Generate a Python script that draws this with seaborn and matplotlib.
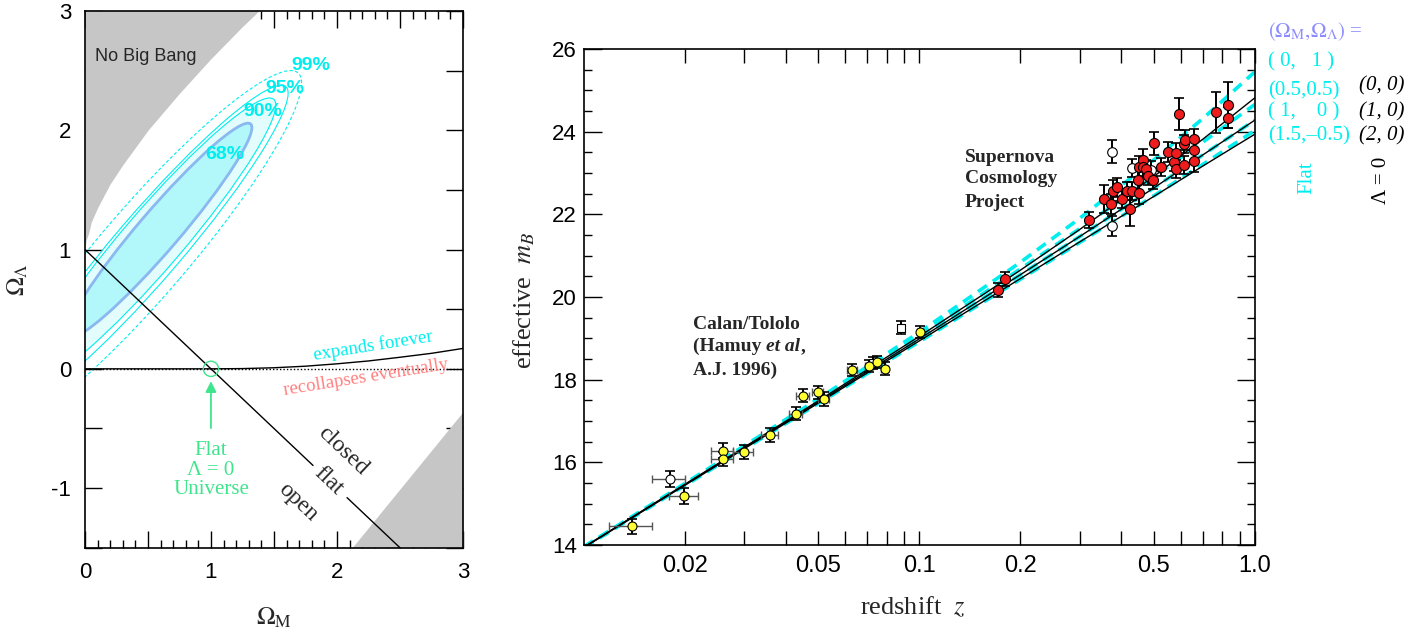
import pandas as pd
import seaborn as sns
import matplotlib.pyplot as plt
from matplotlib.patches import Ellipse
from matplotlib.ticker import MultipleLocator, FixedLocator, FixedFormatter, NullFormatter, FuncFormatter

sns.set_theme(style="ticks")
plt.rcParams['font.family'] = ['Liberation Serif', 'DejaVu Serif']
plt.rcParams['mathtext.fontset'] = 'stix'
plt.rcParams['axes.unicode_minus'] = False

# ---------------- left panel data (Omega_M, Omega_Lambda plane)
om_nobang = [0.0, 0.01, 0.03, 0.05, 0.1, 0.2, 0.3, 0.5, 0.75, 1.0, 1.25, 1.4]
ol_nobang = [1.0, 1.08, 1.14, 1.23, 1.35, 1.55, 1.71, 2.0, 2.31, 2.6, 2.87, 3.02]
om_bounce = [2.12, 3.0]
ol_bounce = [-1.5, -0.36]
om_recol = [0.0, 1.0, 1.25, 1.5, 1.75, 2.0, 2.25, 2.5, 2.75, 3.0]
ol_recol = [0.0, 0.0, 0.002, 0.009, 0.022, 0.042, 0.066, 0.097, 0.13, 0.171]
flat_om = [[0.0, 1.81], [2.08, 2.5]]
flat_ol = [[1.0, -0.81], [-1.08, -1.5]]

conf_levels = ['68%', '90%', '95%', '99%']
conf_center_om = [0.59, 0.54, 0.51, 0.47]
conf_center_ol = [1.16, 1.08, 1.03, 0.98]
conf_angle = 51
conf_width = [2.3, 3.04, 3.44, 3.87]
conf_height = [0.33, 0.48, 0.54, 0.72]
conf_label_om = [1.11, 1.41, 1.59, 1.79]
conf_label_ol = [1.80, 2.16, 2.35, 2.54]

# ---------------- right panel data (Hubble diagram)
lowz_z = [0.0139, 0.0199, 0.0259, 0.0259, 0.0299, 0.0358, 0.0428, 0.0449, 0.0497,
          0.0519, 0.0630, 0.0706, 0.0749, 0.0788, 0.1006]
lowz_m = [14.45, 15.19, 16.28, 16.08, 16.26, 16.67, 17.18, 17.61, 17.69,
          17.53, 18.23, 18.33, 18.43, 18.27, 19.15]
lowz_dm = [0.19, 0.19, 0.18, 0.18, 0.17, 0.17, 0.16, 0.16, 0.16,
           0.16, 0.15, 0.15, 0.15, 0.15, 0.15]
lowz_dz = [0.002, 0.002, 0.002, 0.002, 0.002, 0.002, 0.002, 0.002, 0.002,
           0.002, 0.002, 0.002, 0.002, 0.002, 0.002]
lowz_open_z = [0.0180]
lowz_open_m = [15.60]
lowz_open_dm = [0.2]
lowz_open_dz = [0.002]
lowz_sq_z = [0.0728, 0.0881]
lowz_sq_m = [18.40, 19.26]
lowz_sq_dm = [0.15, 0.15]

hiz_z = [0.172, 0.180, 0.320, 0.354, 0.3715, 0.3783, 0.3888, 0.4007, 0.4164, 0.4252,
         0.4311, 0.4472, 0.4502, 0.4512, 0.4648, 0.4632, 0.4733, 0.4808, 0.4955, 0.500,
         0.526, 0.5515, 0.5724, 0.5815, 0.5815, 0.5923, 0.6132, 0.6158, 0.6200, 0.6579,
         0.6579, 0.6579, 0.7637, 0.8325, 0.8325]
hiz_m = [20.17, 20.43, 21.86, 22.37, 22.25, 22.57, 22.65, 22.36, 22.57, 22.14,
         22.57, 22.83, 22.51, 23.15, 23.32, 23.14, 23.10, 22.93, 22.83, 23.72,
         23.14, 23.51, 23.27, 23.09, 23.48, 24.43, 23.70, 23.19, 23.80, 23.82,
         23.56, 23.28, 24.47, 24.65, 24.34]
hiz_dm = [0.17, 0.17, 0.20, 0.33, 0.25, 0.25, 0.22, 0.20, 0.22, 0.42,
          0.22, 0.25, 0.25, 0.25, 0.25, 0.22, 0.22, 0.22, 0.22, 0.28,
          0.22, 0.25, 0.22, 0.22, 0.25, 0.38, 0.22, 0.22, 0.25, 0.25,
          0.25, 0.25, 0.50, 0.56, 0.25]
hiz_open_z = [0.3741, 0.3741, 0.4311, 0.4887]
hiz_open_m = [23.52, 21.72, 23.13, 23.07]
hiz_open_dm = [0.28, 0.25, 0.22, 0.22]

model_z = [0.01, 0.02, 0.05, 0.1, 0.2, 0.3, 0.5, 0.7, 1.0]
flat_models = {
    '(0,1)': [13.96, 15.49, 17.54, 19.15, 20.84, 21.90, 23.32, 24.32, 25.45],
    '(0.5,0.5)': [13.955, 15.47, 17.50, 19.07, 20.68, 21.65, 22.91, 23.75, 24.66],
    '(1,0)': [13.945, 15.46, 17.46, 18.99, 20.54, 21.46, 22.64, 23.44, 24.28],
    '(1.5,-0.5)': [13.94, 15.44, 17.425, 18.92, 20.43, 21.315, 22.45, 23.21, 24.03],
}
lambda0_models = {
    '(0,0)': [13.95, 15.47, 17.49, 19.05, 20.65, 21.63, 22.92, 23.82, 24.82],
    '(1,0)': [13.945, 15.46, 17.46, 18.99, 20.54, 21.46, 22.64, 23.44, 24.28],
    '(2,0)': [13.94, 15.445, 17.435, 18.94, 20.445, 21.33, 22.435, 23.17, 23.94],
}

CYAN = '#00eeee'
GREEN = '#3ee58c'
GRAY = '#c6c6c6'

fig = plt.figure(figsize=(14.18, 6.33), dpi=100)
ax1 = fig.add_axes([0.0599, 0.1347, 0.2666, 0.8479])
ax2 = fig.add_axes([0.4118, 0.1390, 0.4732, 0.7836])

# ================= left panel
ax1.fill_between(om_nobang, ol_nobang, 3.2, color=GRAY, lw=0, zorder=1)
ax1.fill_between(om_bounce, -1.5, ol_bounce, color=GRAY, lw=0, zorder=1)

for i in reversed(range(len(conf_levels))):
    if i == 0:
        kw = dict(facecolor='#b2f7f9', edgecolor='#8ab8f0', lw=2.0)
    elif i == 1:
        kw = dict(facecolor='#e3fdfd', edgecolor=CYAN, lw=0.8)
    elif i == 2:
        kw = dict(facecolor='none', edgecolor=CYAN, lw=0.8)
    else:
        kw = dict(facecolor='none', edgecolor=CYAN, lw=0.8, linestyle=(0, (3, 2)))
    ax1.add_patch(Ellipse((conf_center_om[i], conf_center_ol[i]), conf_width[i],
                          conf_height[i], angle=conf_angle, zorder=2, **kw))
for lab, x, y in zip(conf_levels, conf_label_om, conf_label_ol):
    ax1.text(x, y, lab, color=CYAN, fontsize=14, fontweight='bold',
             family='Liberation Sans', ha='center', va='center', zorder=4)

ax1.axhline(0, color='black', lw=1, ls=(0, (1, 1.5)), zorder=3)
sns.lineplot(x=om_recol, y=ol_recol, ax=ax1, color='black', lw=1, sort=False,
             estimator=None, zorder=3)
for xs, ys in zip(flat_om, flat_ol):
    sns.lineplot(x=xs, y=ys, ax=ax1, color='black', lw=1, sort=False,
                 estimator=None, zorder=3)

ax1.text(0.08, 2.62, 'No Big Bang', family='Liberation Sans', fontsize=13,
         ha='left', va='center', zorder=4)
ax1.text(2.29, 0.19, 'expands forever', color=CYAN, fontsize=13.5, rotation=9,
         ha='center', va='center')
ax1.text(2.23, -0.07, 'recollapses eventually', color='#ff7f7f', fontsize=13.5,
         rotation=9, ha='center', va='center')
ax1.text(2.05, -0.69, 'closed', fontsize=17, rotation=-43.6, ha='center', va='center')
ax1.text(1.93, -0.94, 'flat', fontsize=17, rotation=-43.6, ha='center', va='center')
ax1.text(1.69, -1.12, 'open', fontsize=17, rotation=-43.6, ha='center', va='center')

ax1.scatter([1.0], [0.0], s=120, facecolors='none', edgecolors=GREEN, lw=1, zorder=5)
ax1.annotate('', xy=(1.0, -0.08), xytext=(1.0, -0.52),
             arrowprops=dict(arrowstyle='-|>', color=GREEN, lw=1.3, mutation_scale=16))
ax1.text(1.0, -0.85, 'Flat\nΛ = 0\nUniverse', color=GREEN, fontsize=15,
         ha='center', va='center', linespacing=1.05)

ax1.set_xlim(0, 3)
ax1.set_ylim(-1.5, 3)
ax1.xaxis.set_major_locator(MultipleLocator(0.5))
ax1.xaxis.set_minor_locator(MultipleLocator(0.1))
ax1.yaxis.set_major_locator(MultipleLocator(0.5))
intfmt = FuncFormatter(lambda v, p: '%d' % round(v) if abs(v - round(v)) < 1e-6 else '')
ax1.xaxis.set_major_formatter(intfmt)
ax1.yaxis.set_major_formatter(intfmt)
ax1.tick_params(which='both', direction='in', top=True, right=True, width=1,
                labelsize=16, labelfontfamily='Liberation Sans', colors='black')
ax1.tick_params(which='major', length=12, pad=10)
ax1.tick_params(which='minor', length=6)
ax1.set_xlabel(r'$\Omega_{\rm M}$', fontsize=18)
ax1.set_ylabel(r'$\Omega_\Lambda$', fontsize=18)
ax1.xaxis.set_label_coords(0.5, -0.108)
ax1.yaxis.set_label_coords(-0.145, 0.5)

# ================= right panel
ax2.set_xscale('log')
for name, vals in flat_models.items():
    sns.lineplot(x=model_z, y=vals, ax=ax2, color=CYAN, lw=2.6, sort=False,
                 estimator=None, linestyle=(0, (3, 2)), zorder=2)
for name, vals in lambda0_models.items():
    sns.lineplot(x=model_z, y=vals, ax=ax2, color='black', lw=1.0, sort=False,
                 estimator=None, zorder=2)

ax2.errorbar(lowz_z, lowz_m, xerr=lowz_dz, fmt='none', ecolor='#555555',
             elinewidth=1, capsize=3, zorder=3)
ax2.errorbar(lowz_open_z, lowz_open_m, xerr=lowz_open_dz, fmt='none', ecolor='#555555',
             elinewidth=1, capsize=3, zorder=3)
for zs, ms, dms in [(lowz_z, lowz_m, lowz_dm), (lowz_open_z, lowz_open_m, lowz_open_dm),
                    (lowz_sq_z, lowz_sq_m, lowz_sq_dm), (hiz_z, hiz_m, hiz_dm),
                    (hiz_open_z, hiz_open_m, hiz_open_dm)]:
    ax2.errorbar(zs, ms, yerr=dms, fmt='none', ecolor='black', elinewidth=1.4,
                 capsize=3.5, capthick=1.2, zorder=3)

sns.scatterplot(x=lowz_open_z, y=lowz_open_m, ax=ax2, color='white', edgecolor='black',
                linewidth=0.8, s=42, zorder=4, legend=False)
sns.scatterplot(x=lowz_sq_z, y=lowz_sq_m, ax=ax2, color='white', edgecolor='black',
                marker='s', linewidth=0.8, s=36, zorder=4, legend=False)
sns.scatterplot(x=hiz_open_z, y=hiz_open_m, ax=ax2, color='white', edgecolor='black',
                linewidth=0.8, s=48, zorder=4, legend=False)
sns.scatterplot(x=lowz_z, y=lowz_m, ax=ax2, color='#ffff33', edgecolor='black',
                linewidth=0.8, s=42, zorder=5, legend=False)
sns.scatterplot(x=hiz_z, y=hiz_m, ax=ax2, color='#ee1c1c', edgecolor='black',
                linewidth=0.8, s=52, zorder=5, legend=False)

for txt, m in zip(['Supernova', 'Cosmology', 'Project'], [23.27, 22.75, 22.17]):
    ax2.text(0.1366, m, txt, fontsize=14, fontweight='bold', ha='left', va='baseline')
ax2.text(0.02115, 19.22, 'Calan/Tololo', fontsize=14, fontweight='bold',
         ha='left', va='baseline')
t1 = ax2.text(0.02115, 18.70, '(Hamuy ', fontsize=14, fontweight='bold',
              ha='left', va='baseline')
t2 = ax2.annotate('et al', xy=(1, 18.70), xycoords=(t1, 'data'), fontsize=14,
                  fontweight='bold', fontstyle='italic', ha='left', va='baseline')
ax2.annotate(',', xy=(1, 18.70), xycoords=(t2, 'data'), fontsize=14,
             fontweight='bold', ha='left', va='baseline')
ax2.text(0.02115, 18.11, 'A.J. 1996)', fontsize=14, fontweight='bold',
         ha='left', va='baseline')

ax2.set_xlim(0.01, 1.0)
ax2.set_ylim(14, 26)
ax2.xaxis.set_major_locator(FixedLocator([0.02, 0.05, 0.1, 0.2, 0.5, 1.0]))
ax2.xaxis.set_major_formatter(FixedFormatter(['0.02', '0.05', '0.1', '0.2', '0.5', '1.0']))
ax2.xaxis.set_minor_locator(FixedLocator([0.03, 0.04, 0.06, 0.07, 0.08, 0.09,
                                          0.3, 0.4, 0.6, 0.7, 0.8, 0.9]))
ax2.xaxis.set_minor_formatter(NullFormatter())
ax2.yaxis.set_major_locator(MultipleLocator(2))
ax2.yaxis.set_minor_locator(MultipleLocator(0.5))
ax2.tick_params(which='both', direction='in', top=True, right=True, width=1,
                labelfontfamily='Liberation Sans', colors='black')
ax2.tick_params(axis='x', which='both', length=10, labelsize=17, pad=7)
ax2.tick_params(axis='y', which='major', length=13, labelsize=16, pad=5)
ax2.tick_params(axis='y', which='minor', length=6)
ax2.set_xlabel(r'redshift  $z$', fontsize=19)
ax2.set_ylabel(r'effective  $m_B$', fontsize=19)
ax2.xaxis.set_label_coords(0.49, -0.1)
ax2.yaxis.set_label_coords(-0.07, 0.494)

for a in (ax1, ax2):
    for s in a.spines.values():
        s.set_color('black')
        s.set_linewidth(1.2)

# ================= legend text at the right
H = 633.0
W = 1418.0
fig.text(1268 / W, 1 - 36.7 / H, r'$(\Omega_{\rm M},\!\Omega_\Lambda)$ =', color='#8c8cff',
         fontsize=15, va='baseline', ha='left')
for txt, y in zip(['( 0,   1 )', '(0.5,0.5)', '( 1,    0 )', '(1.5,–0.5)'],
                  [66.7, 95, 116.7, 140]):
    fig.text(1268 / W, 1 - y / H, txt, color=CYAN, fontsize=15, va='baseline', ha='left')
for txt, y in zip(['(0, 0)', '(1, 0)', '(2, 0)'], [90, 116.7, 140]):
    fig.text(1359 / W, 1 - y / H, txt, color='black', fontsize=15, fontstyle='italic',
             va='baseline', ha='left')
fig.text(1307 / W, 1 - 178 / H, 'Flat', color=CYAN, fontsize=15, rotation=90,
         ha='center', va='center')
fig.text(1382 / W, 1 - 180 / H, 'Λ = 0', color='black', fontsize=15, rotation=90,
         ha='center', va='center')

plt.savefig('out.png', dpi=100)
plt.close()
